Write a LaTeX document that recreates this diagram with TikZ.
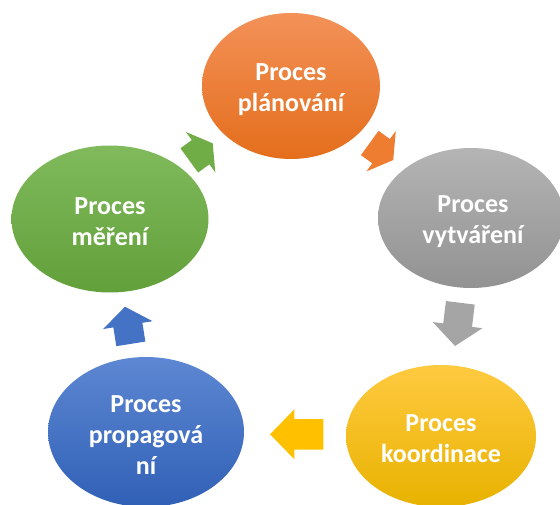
\documentclass[tikz,border=0pt]{standalone}
\usepackage{fontspec}
\setmainfont{Carlito}
\usetikzlibrary{shapes.geometric}
\definecolor{orT}{RGB}{243,145,88}
\definecolor{orM}{RGB}{238,125,49}
\definecolor{orB}{RGB}{228,110,28}
\definecolor{grT}{RGB}{180,180,180}
\definecolor{grM}{RGB}{165,165,165}
\definecolor{grB}{RGB}{146,146,146}
\definecolor{yeT}{RGB}{255,202,64}
\definecolor{yeM}{RGB}{255,192,0}
\definecolor{yeB}{RGB}{232,178,0}
\definecolor{blT}{RGB}{93,135,210}
\definecolor{blM}{RGB}{68,114,196}
\definecolor{blB}{RGB}{48,96,182}
\definecolor{gnT}{RGB}{128,186,92}
\definecolor{gnM}{RGB}{112,173,71}
\definecolor{gnB}{RGB}{98,160,58}
\tikzset{
  proc/.style={ellipse, inner sep=0pt},
  ptext/.style={inner sep=0pt, text=white, align=center,
    font=\fontsize{26}{31}\selectfont\bfseries},
}
% #1 centre, #2 angle, #3 shaft length, #4 head length, #5 shaft half-width, #6 colour
\newcommand\blockarrow[6]{%
  \begin{scope}[shift={(#1)}, rotate=#2]
    \pgfmathsetmacro\tl{-(#3+#4)/2}
    \pgfmathsetmacro\hb{\tl+#3}
    \pgfmathsetmacro\tp{(#3+#4)/2}
    \fill[#6] (\tl,-#5) -- (\hb,-#5) -- (\hb,-25) -- (\tp,0) -- (\hb,25)
      -- (\hb,#5) -- (\tl,#5) -- cycle;
  \end{scope}}
\begin{document}
\begin{tikzpicture}[x=1pt,y=-1pt]
\useasboundingbox (0,0) rectangle (560,505);
\node[proc, minimum width=178pt, minimum height=146pt,
  top color=orT, middle color=orM, bottom color=orB] (plan) at (291,86) {};
\node[proc, minimum width=186pt, minimum height=140pt,
  top color=grT, middle color=grM, bottom color=grB] (vytv) at (471,218) {};
\node[proc, minimum width=190pt, minimum height=142pt,
  top color=yeT, middle color=yeM, bottom color=yeB] (koord) at (441,436) {};
\node[proc, minimum width=196pt, minimum height=150pt,
  top color=blT, middle color=blM, bottom color=blB] (prop) at (146,432) {};
\node[proc, minimum width=197pt, minimum height=147pt,
  top color=gnT, middle color=gnM, bottom color=gnB] (mer) at (110,219) {};
\node[ptext] (tplan) at ([yshift=-3.5pt]plan.center) {Proces\\plánování};
\node[ptext] (tvytv) at ([xshift=2pt,yshift=-3.5pt]vytv.center) {Proces\\vytváření};
\node[ptext] (tkoord) at ([yshift=-2.5pt]koord.center) {Proces\\koordinace};
\node[ptext] (tprop) at ([yshift=-3pt]prop.center) {Proces\\propagová\\ní};
\node[ptext] (tmer) at ([yshift=-3pt]mer.center) {Proces\\měření};
\coordinate (a1) at (381.5,151.5);
\coordinate (a2) at (457.7,324.4);
\coordinate (a3) at (296.7,434.3);
\coordinate (a4) at (127.9,325.3);
\coordinate (a5) at (201,151.9);
\blockarrow{a1}{-36}{14}{15}{15}{orM}
\blockarrow{a2}{-97}{22.5}{21}{14.5}{grM}
\blockarrow{a3}{180}{29}{24.3}{15.3}{yeM}
\blockarrow{a4}{99}{19}{18.6}{14.7}{blM}
\blockarrow{a5}{36}{14}{15}{15}{gnM}
\end{tikzpicture}
\end{document}
